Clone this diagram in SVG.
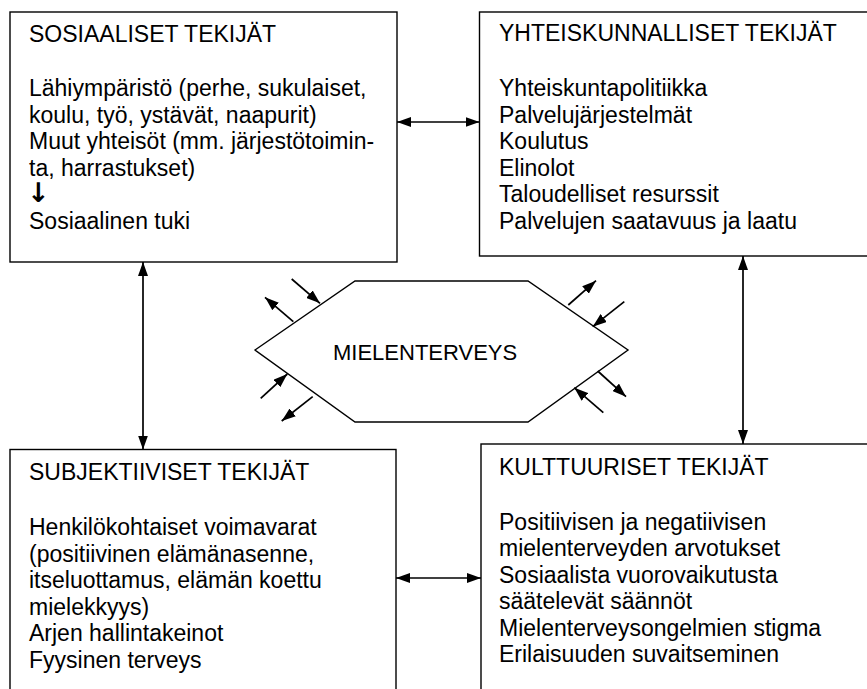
<svg xmlns="http://www.w3.org/2000/svg" width="867" height="689" viewBox="0 0 867 689">
<style>
.box{fill:#fff;stroke:#000;stroke-width:1.4}
.t{font-family:"Liberation Sans",Arial,"DejaVu Sans",sans-serif;font-size:23px;fill:#000}
.c{stroke:#000;stroke-width:1.7;fill:none}
.ar{font-family:"DejaVu Sans",sans-serif;font-weight:bold;fill:#000}
</style>
<defs>
<marker id="ah" viewBox="0 0 14 10" refX="14" refY="5" markerWidth="14" markerHeight="10" markerUnits="userSpaceOnUse" orient="auto-start-reverse">
<path d="M0,0 L14,5 L0,10 z" fill="#000"/>
</marker>
</defs>
<rect width="867" height="689" fill="#fff"/>
<g id="sosiaaliset">
<rect class="box" x="10" y="12" width="387" height="250"/>
<text class="t" x="29" y="41.7">SOSIAALISET TEKIJÄT</text>
<text class="t"><tspan x="29" y="96">Lähiympäristö (perhe, sukulaiset,</tspan><tspan x="29" dy="26.6">koulu, työ, ystävät, naapurit)</tspan><tspan x="29" dy="26.6">Muut yhteisöt (mm. järjestötoimin-</tspan><tspan x="29" dy="26.6">ta, harrastukset)</tspan><tspan class="ar" x="27" dy="26.6" style="font-size:27px">↓</tspan><tspan x="29" dy="26.6">Sosiaalinen tuki</tspan></text>
</g>
<g id="yhteiskunnalliset">
<rect class="box" x="479.5" y="12" width="400" height="244"/>
<text class="t" x="499" y="41">YHTEISKUNNALLISET TEKIJÄT</text>
<text class="t"><tspan x="499" y="96">Yhteiskuntapolitiikka</tspan><tspan x="499" dy="26.5">Palvelujärjestelmät</tspan><tspan x="499" dy="26.5">Koulutus</tspan><tspan x="499" dy="26.5">Elinolot</tspan><tspan x="499" dy="26.5">Taloudelliset resurssit</tspan><tspan x="499" dy="26.5">Palvelujen saatavuus ja laatu</tspan></text>
</g>
<g id="subjektiiviset">
<rect class="box" x="10" y="449.5" width="386" height="260"/>
<text class="t" x="29" y="480">SUBJEKTIIVISET TEKIJÄT</text>
<text class="t"><tspan x="29" y="535">Henkilökohtaiset voimavarat</tspan><tspan x="29" dy="26.6">(positiivinen elämänasenne,</tspan><tspan x="29" dy="26.6">itseluottamus, elämän koettu</tspan><tspan x="29" dy="26.6">mielekkyys)</tspan><tspan x="29" dy="26.6">Arjen hallintakeinot</tspan><tspan x="29" dy="26.6">Fyysinen terveys</tspan></text>
</g>
<g id="kulttuuriset">
<rect class="box" x="481" y="444" width="400" height="260"/>
<text class="t" x="499" y="475">KULTTUURISET TEKIJÄT</text>
<text class="t"><tspan x="499" y="529.5">Positiivisen ja negatiivisen</tspan><tspan x="499" dy="26.5">mielenterveyden arvotukset</tspan><tspan x="499" dy="26.5">Sosiaalista vuorovaikutusta</tspan><tspan x="499" dy="26.5">säätelevät säännöt</tspan><tspan x="499" dy="26.5">Mielenterveysongelmien stigma</tspan><tspan x="499" dy="26.5">Erilaisuuden suvaitseminen</tspan></text>
</g>
<g id="mielenterveys">
<polygon class="box" points="255,350 355,281 528,281 628,350 528,422 355,422"/>
<text class="t" x="333" y="360" style="font-size:22px">MIELENTERVEYS</text>
</g>
<g id="connectors">
<line class="c" x1="397" y1="122" x2="479.5" y2="122" marker-start="url(#ah)" marker-end="url(#ah)"/>
<line class="c" x1="396" y1="578" x2="481" y2="578" marker-start="url(#ah)" marker-end="url(#ah)"/>
<line class="c" x1="143" y1="262" x2="143" y2="449.5" marker-start="url(#ah)" marker-end="url(#ah)"/>
<line class="c" x1="743" y1="256" x2="743" y2="444" marker-start="url(#ah)" marker-end="url(#ah)"/>
<line class="c" x1="291.7" y1="279" x2="320" y2="303.3" marker-end="url(#ah)"/>
<line class="c" x1="293.3" y1="321.7" x2="265" y2="297.3" marker-end="url(#ah)"/>
<line class="c" x1="260.7" y1="398.3" x2="287.3" y2="374" marker-end="url(#ah)"/>
<line class="c" x1="312.7" y1="396.7" x2="281.7" y2="421" marker-end="url(#ah)"/>
<line class="c" x1="568.3" y1="305" x2="596" y2="280.7" marker-end="url(#ah)"/>
<line class="c" x1="624.3" y1="301.7" x2="592.7" y2="326.7" marker-end="url(#ah)"/>
<line class="c" x1="597.7" y1="371" x2="626" y2="396.7" marker-end="url(#ah)"/>
<line class="c" x1="603.3" y1="412.7" x2="574.3" y2="387.7" marker-end="url(#ah)"/>
</g>
</svg>
